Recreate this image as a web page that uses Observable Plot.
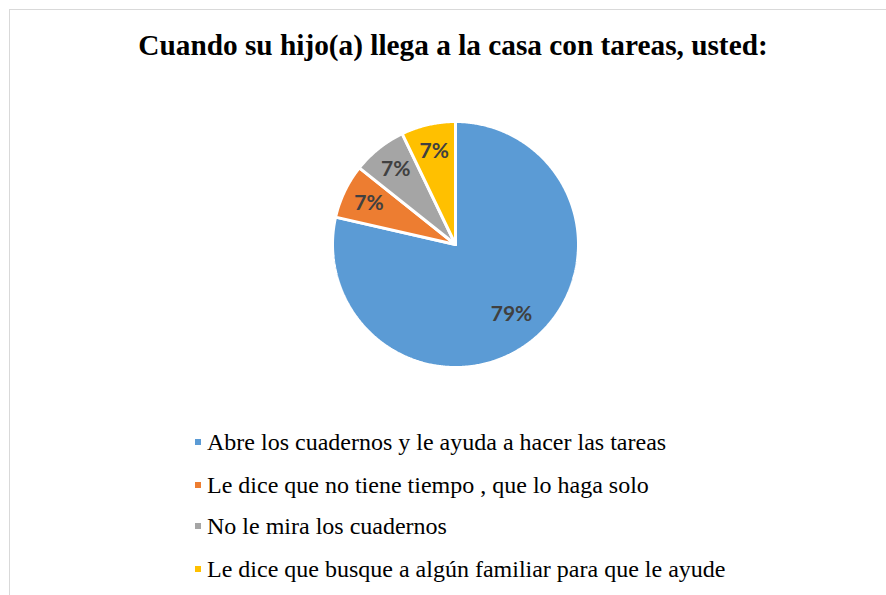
<!DOCTYPE html>
<html>
<head>
<meta charset="utf-8">
<script src="https://cdn.jsdelivr.net/npm/d3@7"></script>
<script src="https://cdn.jsdelivr.net/npm/@observablehq/plot@0.6"></script>
<style>
  html, body { margin: 0; padding: 0; background: #fff; }
  #wrap { position: relative; width: 886px; height: 595px; overflow: hidden; }
  #frame { position: absolute; left: 9px; top: 9px; width: 900px; height: 600px;
           border-left: 1.5px solid #d9d9d9; border-top: 1.5px solid #d9d9d9; }
  #title { position: absolute; left: 0; width: 906px; top: 29px; text-align: center;
           font-family: "Liberation Serif", "Times New Roman", serif; font-weight: bold;
           font-size: 29.3px; color: #000; }
  #chart { position: absolute; left: 0; top: 0; }
  .leg { position: absolute; left: 195px; font-family: "Liberation Serif", "Times New Roman", serif;
         font-size: 24px; color: #000; white-space: nowrap; display: flex; align-items: center; height: 28px; }
  .sw { width: 6px; height: 6px; margin-right: 6px; }
</style>
</head>
<body>
<div id="wrap">
  <div id="frame"></div>
  <div id="chart"></div>
  <div id="title"></div>
  <div id="legend"></div>
</div>
<script>
const titleText = "Cuando su hijo(a) llega a la casa con tareas, usted:";
const categories = [
  "Abre los cuadernos y le ayuda a hacer las tareas",
  "Le dice que no tiene tiempo , que lo haga solo",
  "No le mira los cuadernos",
  "Le dice que busque a algún familiar para que le ayude"
];
const counts = [11, 1, 1, 1];
const colors = ["#5B9BD5", "#ED7D31", "#A5A5A5", "#FFC000"];

document.getElementById("title").textContent = titleText;

const total = d3.sum(counts);
const pie = d3.pie().sort(null).value(d => d.value)
  .startAngle(0).endAngle(2 * Math.PI);
const arcs = pie(categories.map((c, i) => ({cat: c, value: counts[i]})));

// polygon points along each slice (unit circle, angle clockwise from top)
const pts = [];
arcs.forEach(a => {
  const cat = a.data.cat;
  pts.push({cat, x: 0, y: 0});
  const n = Math.max(8, Math.ceil((a.endAngle - a.startAngle) / (Math.PI / 360)));
  for (let k = 0; k <= n; k++) {
    const t = a.startAngle + (a.endAngle - a.startAngle) * k / n;
    pts.push({cat, x: Math.sin(t), y: Math.cos(t)});
  }
  pts.push({cat, x: 0, y: 0});
});

const labels = arcs.map(a => {
  const m = (a.startAngle + a.endAngle) / 2;
  const share = a.data.value / total;
  const r = share > 0.5 ? 0.73 : 0.78;
  return {cat: a.data.cat, x: r * Math.sin(m), y: r * Math.cos(m),
          text: Math.round(100 * share) + "%"};
});

const chart = Plot.plot({
  width: 886, height: 595,
  margin: 0,
  x: {domain: [-1, 1], range: [332, 578], axis: null},
  y: {domain: [-1, 1], range: [367, 121], axis: null},
  color: {domain: categories, range: colors},
  marks: [
    Plot.line(pts, {x: "x", y: "y", z: "cat", fill: "cat", stroke: "white",
                    strokeWidth: 3, strokeLinejoin: "miter", curve: "linear"}),
    Plot.text(labels, {x: "x", y: "y", text: "text", fill: "#404040",
                       fontFamily: "Lato, 'Open Sans', sans-serif", fontWeight: "bold", fontSize: 21})
  ],
  style: {background: "transparent", overflow: "visible"}
});
document.getElementById("chart").appendChild(chart);

const legend = document.getElementById("legend");
const rowTops = [428, 471, 512, 555];
categories.forEach((c, i) => {
  const row = document.createElement("div");
  row.className = "leg";
  row.style.top = rowTops[i] + "px";
  const sw = document.createElement("span");
  sw.className = "sw";
  sw.style.background = colors[i];
  const tx = document.createElement("span");
  tx.textContent = c;
  row.appendChild(sw); row.appendChild(tx);
  legend.appendChild(row);
});
</script>
</body>
</html>
